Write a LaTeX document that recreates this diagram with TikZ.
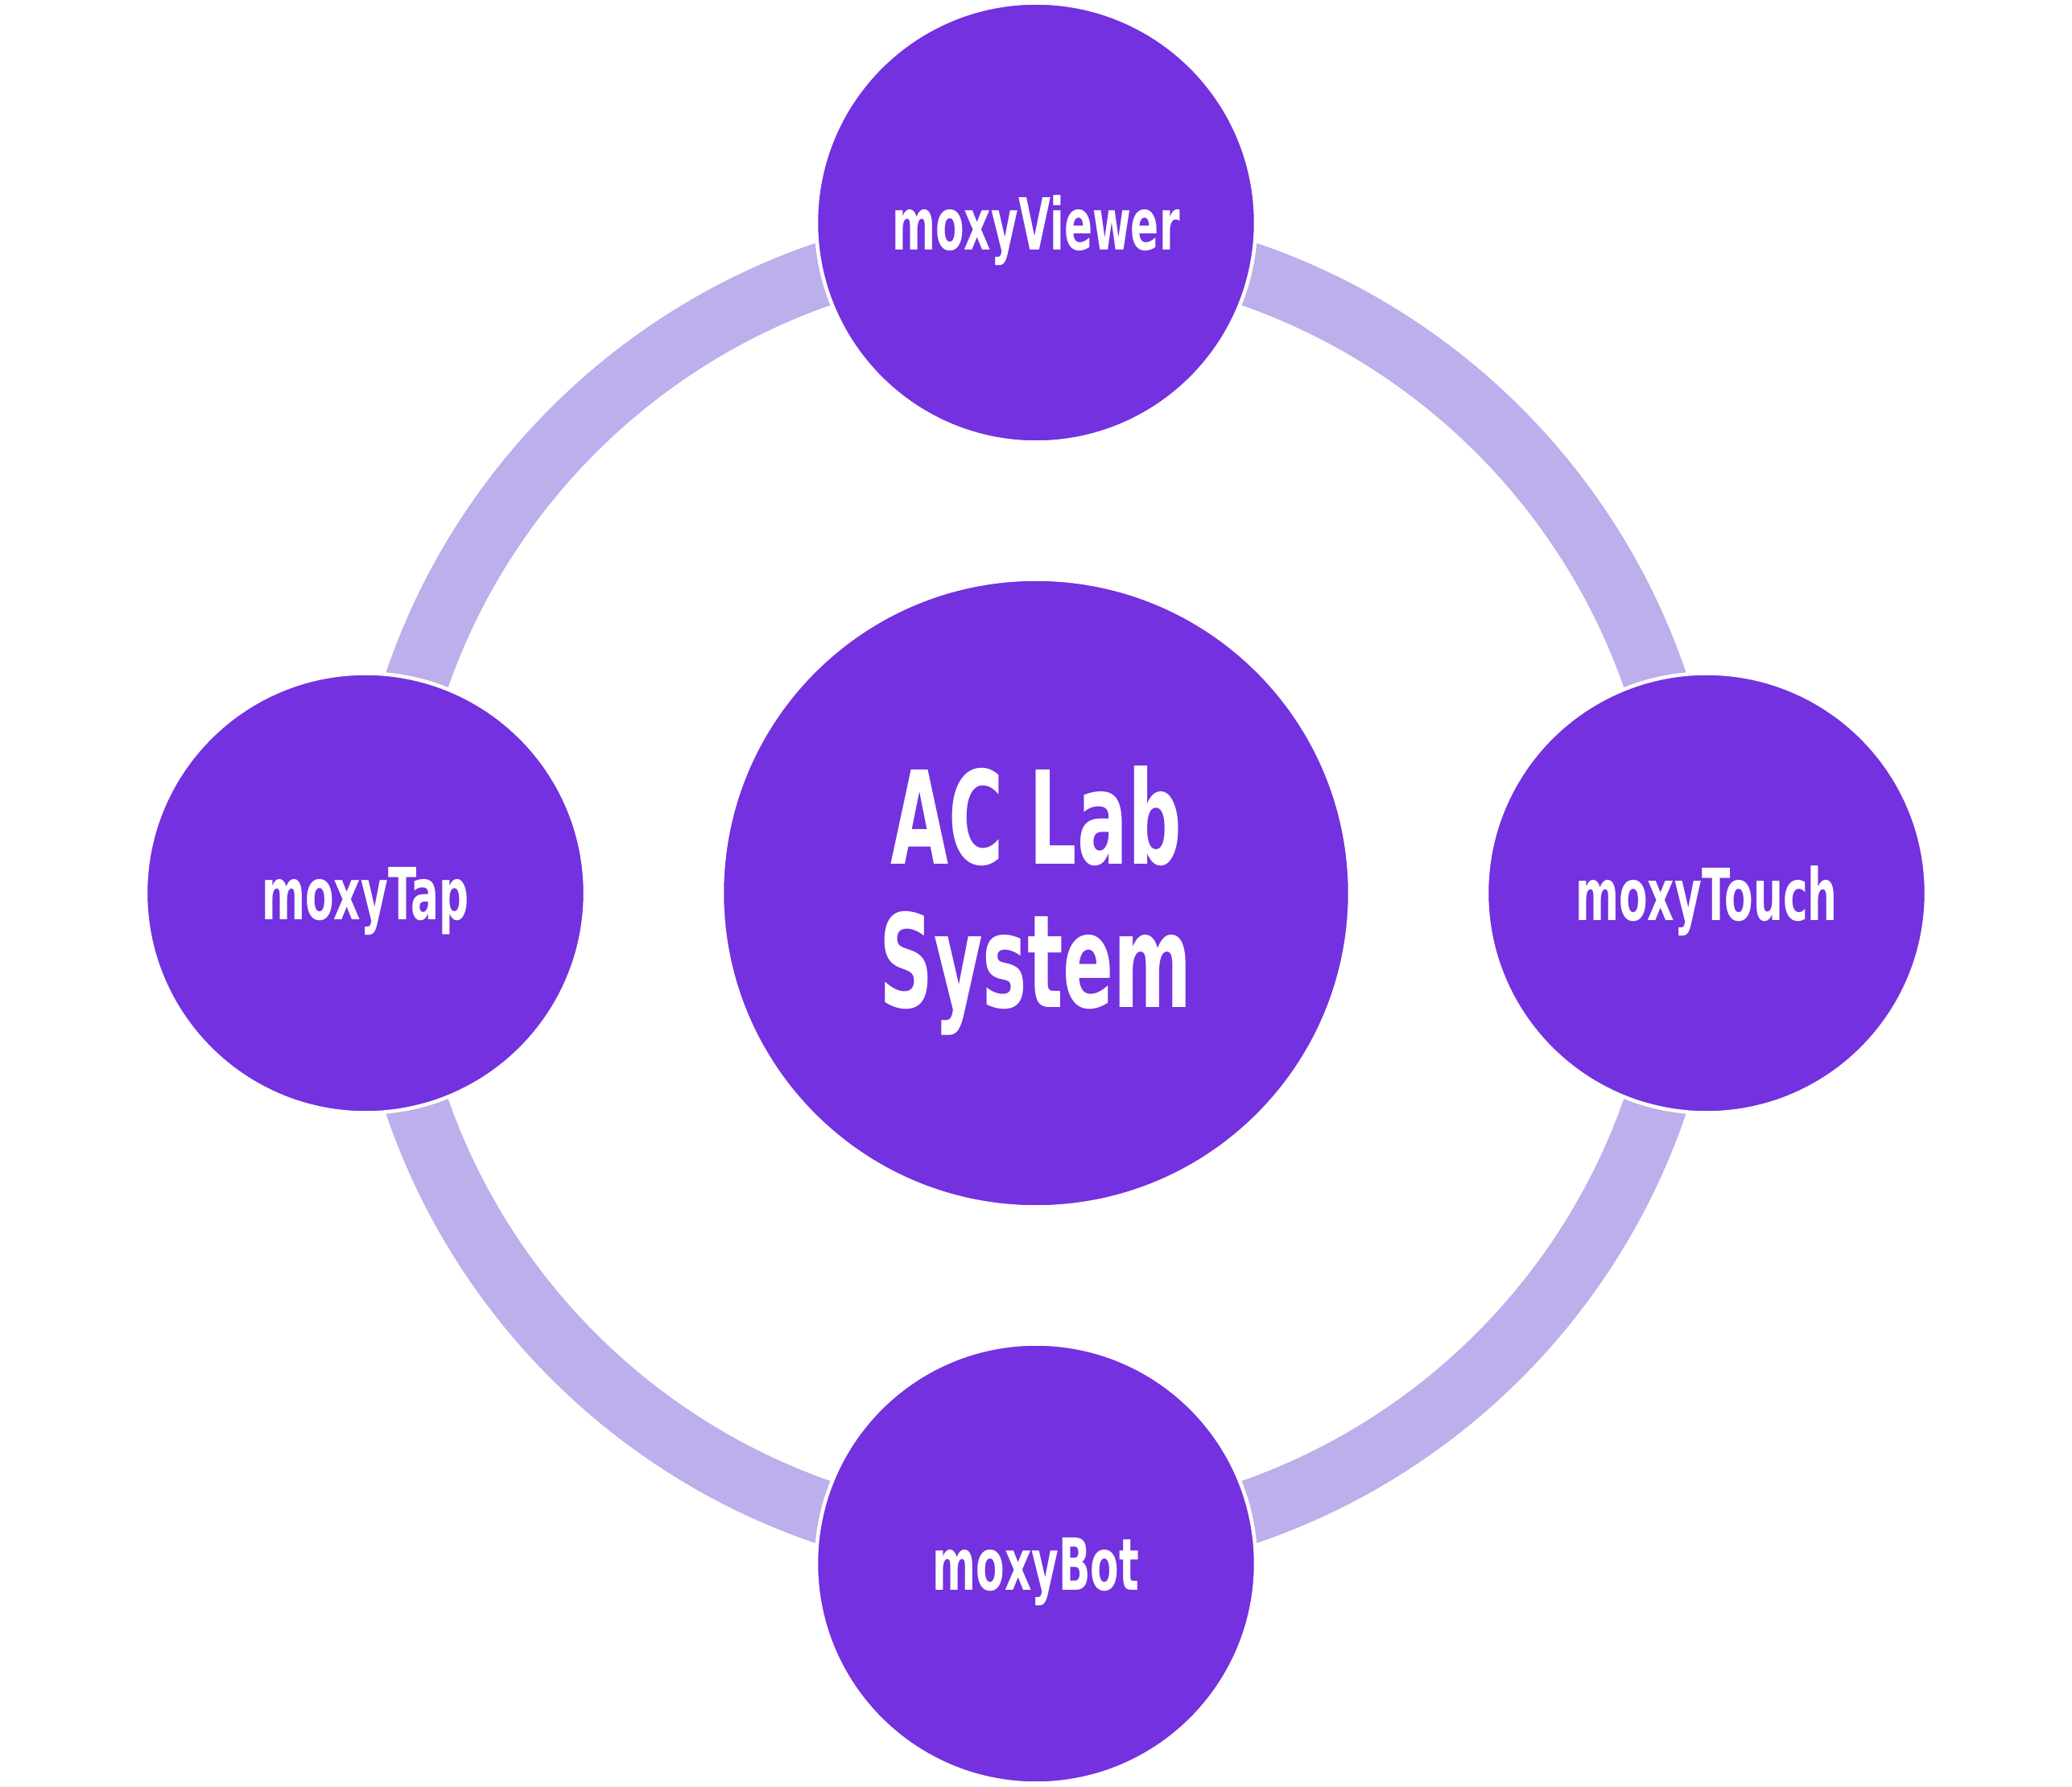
\documentclass[tikz,border=0pt]{standalone}
\usepackage{fontspec}
\usepackage{xcolor}
\newfontfamily\moxyfont[FakeStretch=0.58]{DejaVu Sans}
\definecolor{moxypurple}{HTML}{7331DF}
\definecolor{moxylilac}{HTML}{BCAFEB}

\begin{document}
\begin{tikzpicture}[
    hub/.style={circle, fill=moxypurple, draw=white, line width=1.3pt,
      minimum size=7.8cm, inner sep=0pt, text=white, align=center, text depth=0pt,
      font={\moxyfont\bfseries\fontsize{45.7}{50.6}\selectfont}},
    satellite/.style={circle, fill=moxypurple, draw=white, line width=1.3pt,
      minimum size=5.46cm, inner sep=0pt, text=white, text depth=0pt,
      font={\moxyfont\bfseries\fontsize{25.4}{30}\selectfont}},
    ringline/.style={draw=moxylilac, line width=0.79cm}
  ]
  \useasboundingbox (-12.87,-11.095) rectangle (12.87,11.095);
  % Draw the ring behind the circles
  \coordinate (hubcenter) at (0,0);
  \draw[ringline] (hubcenter) circle[radius=8.13cm];
  % Draw the central system
  \node[hub] (system) at (hubcenter) {};
  \node[text=white, align=center, text depth=0pt, inner sep=0pt,
    font={\moxyfont\bfseries\fontsize{45.7}{50.6}\selectfont}]
    (systemlabel) at ([yshift=0.08cm]system.center) {AC Lab\\System};
  % Draw the four modules
  \node[satellite] (viewer) at (0,8.33) {moxyViewer};
  \node[satellite] (touch) at (8.33,0) {moxyTouch};
  \node[satellite] (bot) at (0,-8.33) {moxyBot};
  \node[satellite] (tap) at (-8.33,0) {moxyTap};
\end{tikzpicture}
\end{document}
